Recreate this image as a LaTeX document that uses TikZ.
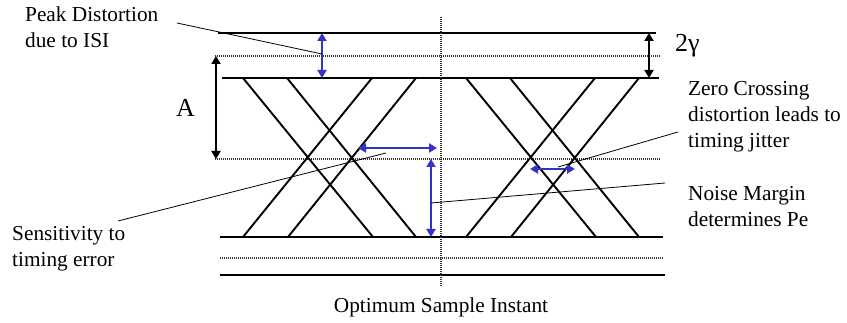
\documentclass[tikz,border=0pt]{standalone}
\usepackage{fontspec}
\setmainfont{Liberation Serif}
\usetikzlibrary{arrows.meta}
\definecolor{eyeblue}{RGB}{51,51,204}
\tikzset{
  levelline/.style={line width=1.9pt, draw=black},
  dotline/.style={line width=1.6pt, draw=black!80, dash pattern=on 1pt off 1pt},
  eyeline/.style={line width=1.9pt, draw=black},
  leader/.style={line width=0.8pt, draw=black},
  bluearrow/.style={{Triangle[length=8pt,width=9pt]}-{Triangle[length=8pt,width=9pt]}, line width=2.4pt, draw=eyeblue},
  blackarrow/.style={{Triangle[length=8pt,width=9pt]}-{Triangle[length=8pt,width=9pt]}, line width=1.9pt, draw=black},
  lbl/.style={anchor=base west, inner sep=0pt, align=left, font=\fontsize{21.3}{26}\selectfont},
  biglbl/.style={anchor=base west, inner sep=0pt, font=\fontsize{26}{30}\selectfont}
}
\begin{document}
\begin{tikzpicture}[x=1pt, y=-1pt]
\useasboundingbox (0,0) rectangle (847,323);

% level lines
\draw[levelline] (218,33) -- (656,33);
\draw[dotline] (215,56) -- (660,56);
\draw[levelline] (222,78) -- (659,78);
\draw[dotline] (215,159) -- (660,159);
\draw[levelline] (220,237) -- (663,237);
\draw[dotline] (220,258) -- (664,258);
\draw[levelline] (220,275) -- (665,275);

% sampling instant
\draw[dotline] (441,17) -- (441,287);

% the two eyes
\foreach \s in {0,223} {
  \draw[eyeline] (243+\s,78) -- (373+\s,237);
  \draw[eyeline] (287+\s,78) -- (416+\s,237);
  \draw[eyeline] (372+\s,78) -- (243+\s,237);
  \draw[eyeline] (416+\s,78) -- (288+\s,237);
}

% arrow end points
\coordinate (pkT) at (322,33);
\coordinate (pkB) at (322,78);
\coordinate (aT) at (216,56);
\coordinate (aB) at (216,159);
\coordinate (gT) at (649,33);
\coordinate (gB) at (649,78);
\coordinate (snL) at (358,148);
\coordinate (snR) at (437,148);
\coordinate (nmT) at (431,159);
\coordinate (nmB) at (431,237);
\coordinate (zcL) at (530,169);
\coordinate (zcR) at (575,169);

\draw[bluearrow] (pkT) -- (pkB);
\draw[bluearrow] (snL) -- (snR);
\draw[bluearrow] (nmT) -- (nmB);
\draw[bluearrow] (zcL) -- (zcR);
\draw[blackarrow] (aT) -- (aB);
\draw[blackarrow] (gT) -- (gB);

% labels (base = last line)
\node[lbl] (peak) at (25,48) {Peak Distortion\\due to ISI};
\node[lbl] (zero) at (688,148) {Zero Crossing\\distortion leads to\\timing jitter};
\node[lbl] (noise) at (688,227) {Noise Margin\\determines Pe};
\node[lbl] (sens) at (12,267) {Sensitivity to\\timing error};
\node[lbl, anchor=base] (opt) at (441,313) {Optimum Sample Instant};
\node[biglbl] (amp) at (176,117) {A};
\node[biglbl] (gam) at (675,52) {2γ};

% leaders
\coordinate (peakE) at (177,23);
\coordinate (peakT) at (322,54);
\coordinate (sensE) at (118,221);
\coordinate (sensT) at (386,153);
\coordinate (zeroE) at (678,132);
\coordinate (zeroT) at (558,167);
\coordinate (noiseE) at (665,183);
\coordinate (noiseT) at (431,203);
\draw[leader] (peakE) -- (peakT);
\draw[leader] (sensE) -- (sensT);
\draw[leader] (zeroE) -- (zeroT);
\draw[leader] (noiseE) -- (noiseT);

\end{tikzpicture}
\end{document}
